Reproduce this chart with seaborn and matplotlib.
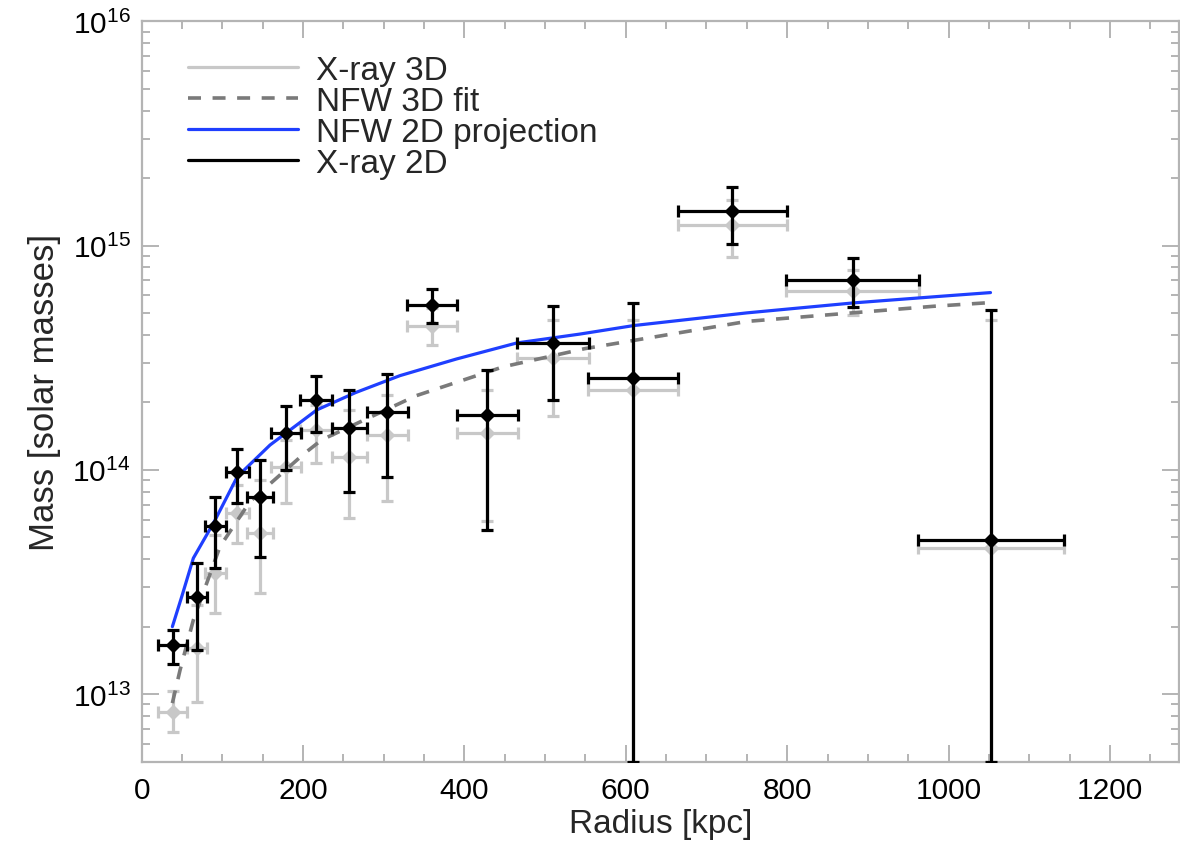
import matplotlib
matplotlib.use("Agg")
import matplotlib.pyplot as plt
import seaborn as sns
import pandas as pd
import numpy as np
from matplotlib.lines import Line2D
from matplotlib.ticker import MultipleLocator, LogLocator, NullFormatter

# ---------------- data ----------------
radius = [38.5, 68.2, 90.9, 118.5, 146.6, 178.9, 216.3, 257.4, 304.5, 360.3,
          428.4, 509.5, 609.4, 732.2, 881.4, 1052.6]
radius_err = [18.2, 12.4, 13.0, 14.5, 16.0, 18.6, 20.0, 21.7, 25.8, 31.0,
              37.6, 44.6, 55.8, 67.6, 82.4, 90.3]

mass2d = [1.66e13, 2.72e13, 5.62e13, 9.78e13, 7.6e13, 1.46e14, 2.05e14, 1.53e14,
          1.82e14, 5.45e14, 1.76e14, 3.68e14, 2.56e14, 1.42e15, 7.05e14, 4.87e13]
mass2d_lo = [1.36e13, 1.58e13, 3.64e13, 7.1e13, 4.1e13, 1.0e14, 1.48e14, 8.0e13,
             9.33e13, 4.52e14, 5.4e13, 2.04e14, 5e12, 1.02e15, 5.32e14, 5e12]
mass2d_hi = [1.93e13, 3.85e13, 7.55e13, 1.24e14, 1.11e14, 1.92e14, 2.63e14, 2.26e14,
             2.68e14, 6.4e14, 2.79e14, 5.4e14, 5.55e14, 1.83e15, 8.8e14, 5.18e14]

mass3d = [8.34e12, 1.6e13, 3.47e13, 6.43e13, 5.24e13, 1.03e14, 1.51e14, 1.14e14,
          1.43e14, 4.36e14, 1.46e14, 3.16e14, 2.27e14, 1.24e15, 6.25e14, 4.49e13]
mass3d_lo = [6.8e12, 9.2e12, 2.3e13, 4.72e13, 2.83e13, 7.1e13, 1.07e14, 6.1e13,
             7.3e13, 3.6e14, 5.9e13, 1.73e14, 5e12, 8.93e14, 4.92e14, 5e12]
mass3d_hi = [1.03e13, 2.5e13, 5.1e13, 8.57e13, 9.0e13, 1.36e14, 1.95e14, 1.85e14,
             2.16e14, 5.29e14, 2.27e14, 4.67e14, 4.67e14, 1.6e15, 7.8e14, 4.67e14]

nfw2d_r = [38, 50, 64, 80, 91, 118.5, 159, 217, 265, 320, 390, 465, 543, 610, 750,
           882, 990, 1052]
nfw2d_m = [2.0e13, 2.75e13, 4.04e13, 5.09e13, 5.98e13, 9.33e13, 1.29e14, 1.85e14,
           2.21e14, 2.63e14, 3.12e14, 3.68e14, 4.03e14, 4.40e14, 5.01e14, 5.55e14,
           5.94e14, 6.17e14]

nfw3d_r = [38, 47.5, 64, 97, 134, 200, 223, 340, 448, 549, 750, 981, 1052]
nfw3d_m = [9.12e12, 1.28e13, 2.14e13, 4.55e13, 7.21e13, 1.17e14, 1.36e14, 2.14e14,
           2.88e14, 3.47e14, 4.59e14, 5.36e14, 5.57e14]

legend_labels = ["X-ray 3D", "NFW 3D fit", "NFW 2D projection", "X-ray 2D"]

# ---------------- style ----------------
sns.set_theme(style="ticks")
plt.rcParams["font.family"] = ["Liberation Sans", "DejaVu Sans"]
plt.rcParams["mathtext.fontset"] = "custom"
plt.rcParams["mathtext.rm"] = "Liberation Sans"

GRAY_LIGHT = "#c8c8c8"
GRAY_DASH = "#7a7a7a"
BLUE = "#1f3fff"
BLACK = "#000000"
AXCOL = "#b4b4b4"

fig = plt.figure(figsize=(11.8, 8.53), dpi=100)
ax = fig.add_axes([0.1201, 0.1059, 0.8793, 0.868])
ax.set_yscale("log")

m3 = np.array(mass3d)
m2 = np.array(mass2d)

# X-ray 3D (light gray)
ax.errorbar(radius, m3, xerr=radius_err,
            yerr=[m3 - np.array(mass3d_lo), np.array(mass3d_hi) - m3],
            fmt="D", color=GRAY_LIGHT, ms=7.5, lw=2.3, capsize=4, capthick=2.3,
            elinewidth=2.3, zorder=2)

# NFW curves
df3 = pd.DataFrame({"r": nfw3d_r, "m": nfw3d_m})
df2 = pd.DataFrame({"r": nfw2d_r, "m": nfw2d_m})
sns.lineplot(data=df3, x="r", y="m", ax=ax, color=GRAY_DASH, lw=2.6,
             linestyle=(0, (3.6, 3.2)), zorder=3, estimator=None)
sns.lineplot(data=df2, x="r", y="m", ax=ax, color=BLUE, lw=2.3, zorder=4,
             estimator=None)

# X-ray 2D (black)
ax.errorbar(radius, m2, xerr=radius_err,
            yerr=[m2 - np.array(mass2d_lo), np.array(mass2d_hi) - m2],
            fmt="D", color=BLACK, ms=7.5, lw=2.3, capsize=4, capthick=2.3,
            elinewidth=2.3, zorder=5)

# ---------------- axes ----------------
ax.set_xlim(0, 1286)
ax.set_ylim(5e12, 1e16)
ax.xaxis.set_major_locator(MultipleLocator(200))
ax.xaxis.set_minor_locator(MultipleLocator(50))
ax.yaxis.set_major_locator(LogLocator(base=10, numticks=10))
ax.yaxis.set_minor_locator(LogLocator(base=10, subs=np.arange(2, 10), numticks=100))
ax.yaxis.set_minor_formatter(NullFormatter())

for sp in ax.spines.values():
    sp.set_color(AXCOL)
    sp.set_linewidth(1.6)
    sp.set_visible(True)

ax.tick_params(which="both", direction="in", top=True, right=True,
               color=AXCOL, width=1.4, labelsize=21.5, labelcolor="black")
ax.tick_params(which="major", length=12)
ax.tick_params(which="minor", length=6)
ax.tick_params(axis="x", pad=10)
ax.tick_params(axis="y", pad=8)

ax.set_xlabel("Radius [kpc]", fontsize=24, labelpad=3)
ax.set_ylabel("Mass [solar masses]", fontsize=25, labelpad=8)

handles = [
    Line2D([], [], color=GRAY_LIGHT, lw=2.3),
    Line2D([], [], color=GRAY_DASH, lw=2.6, linestyle=(0, (3.6, 3.2))),
    Line2D([], [], color=BLUE, lw=2.3),
    Line2D([], [], color=BLACK, lw=2.3),
]
ax.legend(handles, legend_labels, loc="upper left", bbox_to_anchor=(0.0446, 0.955),
          frameon=False, fontsize=24, handlelength=3.3, handletextpad=0.55,
          labelspacing=0.0, borderaxespad=0, borderpad=0)

fig.savefig("out.png", dpi=100)
